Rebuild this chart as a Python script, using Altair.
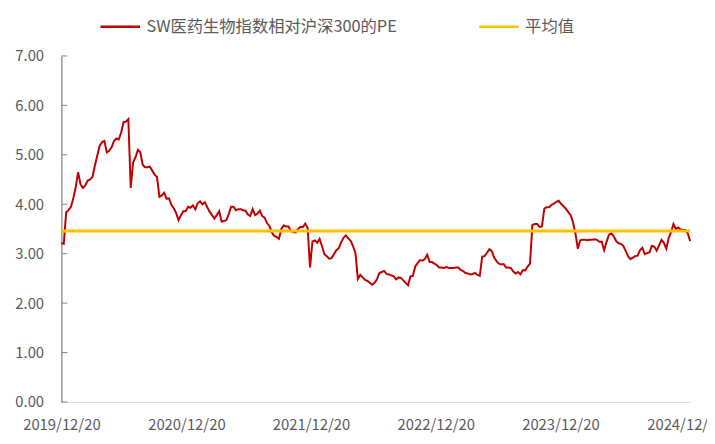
import altair as alt
import pandas as pd

series_name = "SW医药生物指数相对沪深300的PE"
avg_name = "平均值"
start_date = "2019-12-20"

# weekly readings of the relative PE, starting 2019-12-20
pe_values = [
    3.22, 3.20, 3.84, 3.88, 3.95, 4.12, 4.35, 4.65, 4.40, 4.33,
    4.38, 4.48, 4.50, 4.55, 4.78, 4.98, 5.18, 5.26, 5.28, 5.05,
    5.08, 5.15, 5.28, 5.33, 5.31, 5.45, 5.66, 5.67, 5.72, 4.33,
    4.85, 4.95, 5.10, 5.05, 4.80, 4.75, 4.75, 4.76, 4.68, 4.60,
    4.55, 4.15, 4.18, 4.23, 4.11, 4.12, 3.99, 3.92, 3.82, 3.68,
    3.78, 3.86, 3.86, 3.95, 3.93, 3.98, 3.90, 4.02, 4.06, 4.00,
    4.04, 3.94, 3.85, 3.78, 3.71, 3.78, 3.86, 3.65, 3.66, 3.68,
    3.80, 3.95, 3.95, 3.88, 3.90, 3.90, 3.88, 3.87, 3.79, 3.76,
    3.90, 3.78, 3.81, 3.87, 3.76, 3.73, 3.62, 3.56, 3.43, 3.36,
    3.34, 3.30, 3.50, 3.57, 3.55, 3.55, 3.46, 3.44, 3.43, 3.50,
    3.54, 3.54, 3.61, 3.52, 2.72, 3.25, 3.27, 3.22, 3.30, 3.15,
    2.99, 2.95, 2.90, 2.91, 2.99, 3.07, 3.11, 3.23, 3.32, 3.37,
    3.31, 3.26, 3.15, 3.01, 2.49, 2.57, 2.52, 2.47, 2.45, 2.41,
    2.37, 2.41, 2.48, 2.61, 2.63, 2.65, 2.59, 2.58, 2.56, 2.54,
    2.48, 2.52, 2.51, 2.46, 2.41, 2.36, 2.54, 2.55, 2.74, 2.81,
    2.87, 2.86, 2.89, 2.98, 2.83, 2.83, 2.80, 2.77, 2.72, 2.72,
    2.71, 2.73, 2.71, 2.71, 2.71, 2.72, 2.72, 2.67, 2.65, 2.61,
    2.60, 2.58, 2.59, 2.61, 2.57, 2.55, 2.94, 2.95, 3.02, 3.09,
    3.05, 2.92, 2.85, 2.80, 2.78, 2.79, 2.72, 2.72, 2.71, 2.64,
    2.60, 2.63, 2.58, 2.67, 2.66, 2.74, 2.80, 3.58, 3.60, 3.60,
    3.54, 3.55, 3.91, 3.94, 3.94, 3.99, 4.01, 4.05, 4.07, 4.01,
    3.96, 3.91, 3.84, 3.78, 3.63, 3.41, 3.10, 3.27, 3.28, 3.28,
    3.27, 3.28, 3.28, 3.29, 3.28, 3.24, 3.24, 3.07, 3.24, 3.38,
    3.41, 3.35, 3.26, 3.21, 3.20, 3.16, 3.06, 2.95, 2.89, 2.92,
    2.95, 2.96, 3.07, 3.12, 2.99, 3.01, 3.03, 3.16, 3.14, 3.06,
    3.17, 3.28, 3.22, 3.10, 3.31, 3.44, 3.60, 3.50, 3.53, 3.49,
    3.48, 3.48, 3.41, 3.25,
]
avg_value = 3.46
y_ticks = [0, 1, 2, 3, 4, 5, 6, 7]
label_years = [2019, 2020, 2021, 2022, 2023, 2024]

dates = pd.date_range(start_date, periods=len(pe_values), freq="7D")
df = pd.DataFrame({"date": dates, "pe": pe_values, "s": series_name})
avg_df = pd.DataFrame({"pe": [avg_value], "s": [avg_name]})
tick_df = pd.DataFrame({"pe": y_ticks})

FONT = "Noto Sans CJK SC"
TXT = "#595959"

color_scale = alt.Scale(domain=[series_name, avg_name], range=["#C00000", "#FFC000"])
x_scale = alt.Scale(domain=[alt.DateTime(year=2019, month=12, date=20),
                            alt.DateTime(year=2025, month=1, date=3)])
y_scale = alt.Scale(domain=[0, 7], nice=False)

x_axis = alt.Axis(
    values=[alt.DateTime(year=y, month=12, date=20) for y in label_years],
    format="%Y/%m/%d", labelFlush=False, labelOverlap=False, ticks=False,
    domainColor="#D9D9D9", domainWidth=1, labelPadding=16, labelFontSize=15,
    labelFont=FONT, labelColor=TXT, grid=False, title=None,
)
y_axis = alt.Axis(
    values=y_ticks, format=".2f", ticks=False, labelPadding=18,
    labelFontSize=15, labelFont=FONT, labelColor=TXT,
    domainColor="#868686", domainWidth=1.3, grid=False, title=None,
)

legend = alt.Legend(
    orient="none", legendX=38, legendY=-51, direction="horizontal", title=None,
    symbolType="stroke", symbolSize=1600, symbolStrokeWidth=2.5,
    labelFontSize=16.5, labelFont=FONT, labelColor=TXT, labelOffset=5,
    columnPadding=77, labelLimit=500, padding=0,
)

line = alt.Chart(df).mark_line(strokeWidth=2).encode(
    x=alt.X("date:T", scale=x_scale, axis=x_axis),
    y=alt.Y("pe:Q", scale=y_scale, axis=y_axis),
    color=alt.Color("s:N", scale=color_scale, legend=legend),
)

avg = alt.Chart(avg_df).mark_rule(strokeWidth=3).encode(
    y=alt.Y("pe:Q", scale=y_scale, axis=y_axis),
    color=alt.Color("s:N", scale=color_scale, legend=legend),
)

ticks = alt.Chart(tick_df).mark_rule(color="#868686", strokeWidth=1).encode(
    y=alt.Y("pe:Q", scale=y_scale, axis=y_axis),
    x=alt.value(0), x2=alt.value(6),
)

chart = alt.layer(line, avg, ticks).properties(
    width=636, height=350,
    autosize=alt.AutoSizeParams(type="none"),
    padding={"left": 54, "top": 46, "right": 17, "bottom": 40},
    background="white",
).configure_view(stroke=None)

chart.save("out.html", embed_options={"renderer": "svg", "actions": False})
